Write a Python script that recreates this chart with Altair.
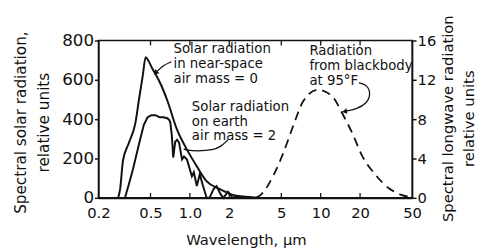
import altair as alt
import pandas as pd

# ---- data ----
# Solar radiation in near-space, air mass = 0 (left axis)
am0_wl = [0.283, 0.293, 0.308, 0.342, 0.383, 0.407, 0.436, 0.459, 0.484, 0.518, 0.546,
          0.606, 0.672, 0.799, 0.950, 1.13, 1.34, 1.68, 2.14, 2.68, 3.36]
am0_val = [0, 45, 190, 280, 380, 495, 620, 715, 695, 655, 630,
           570, 495, 345, 245, 160, 85, 45, 15, 5, 0]

# Solar radiation on earth, air mass = 2 (left axis)
am2_wl = [0.319, 0.342, 0.367, 0.407, 0.444, 0.475, 0.509, 0.546, 0.585, 0.627, 0.672,
          0.696, 0.708, 0.727, 0.746, 0.772, 0.799, 0.827, 0.871, 0.902, 0.950, 1.036,
          1.072, 1.130, 1.190, 1.254, 1.343, 1.414, 1.516, 1.598, 1.712, 1.80, 1.957,
          2.13, 2.30, 2.5, 3.0]
am2_val = [0, 70, 145, 270, 370, 410, 420, 420, 410, 410, 405,
           395, 385, 320, 205, 285, 295, 280, 195, 210, 195, 110,
           130, 60, 120, 65, 0, 0, 45, 60, 20, 0, 30,
           0, 10, 0, 0]

# Radiation from blackbody at 95 F (right axis)
bb_wl = [3.2, 3.48, 4.36, 5.19, 6.16, 7.33, 9.50, 12.3, 14.6, 17.4, 20.7, 26.4, 33.0, 41.4, 46.7]
bb_val = [0.0, 0.3, 2.3, 4.6, 7.3, 9.8, 11.0, 10.3, 8.6, 6.6, 4.3, 2.3, 1.0, 0.3, 0.1]

x_ticks = [0.2, 0.5, 1, 2, 5, 10, 20, 50]
inner_ticks = [0.5, 1, 2, 5, 10, 20]
left_ticks = [0, 200, 400, 600, 800]
right_ticks = [0, 4, 8, 12, 16]

# annotations (in data units of the left axis)
label1 = ["Solar radiation", "in near-space", "air mass = 0"]
label1_wl = 0.75
label1_val = [755, 680, 605]
label2 = ["Solar radiation", "on earth", "air mass = 2"]
label2_wl = 1.035
label2_val = [460, 385, 315]
label3 = ["Radiation", "from blackbody", "at 95°F"]
label3_wl = 8.2
label3_val = [747, 670, 595]

arrow1_wl = [0.720, 0.627, 0.552]
arrow1_val = [691, 675, 638]
leader2_wl = [1.955, 1.741, 1.508, 1.130, 0.950, 0.897]
leader2_val = [295, 262, 242, 237, 242, 249]
arrow3_wl = [19.6, 22.6, 24.2, 22.6, 18.7, 15.4]
arrow3_val = [585, 575, 530, 480, 450, 440]

FONT = "DejaVu Sans"
INK = "#111111"

xscale = alt.Scale(type="log", domain=[0.2, 50], nice=False)
xaxis = alt.Axis(values=x_ticks, labelExpr="datum.value == 1 ? '1.0' : format(datum.value, '~g')",
                 ticks=False, tickSize=0, labelPadding=8, labelFontSize=15, labelFlush=False,
                 labelOverlap=False, domainColor=INK, domainWidth=2, grid=False,
                 title="Wavelength, µm", titleFontSize=15, titleFontWeight="normal",
                 titleX=150, titleY=42, titleAlign="center", titleBaseline="middle")
X = alt.X("w:Q", scale=xscale, axis=xaxis)

lscale = alt.Scale(domain=[0, 800], nice=False)
laxis = alt.Axis(values=left_ticks, tickSize=4, labelPadding=1, labelFontSize=17, grid=False,
                 domainColor=INK, domainWidth=1.5, tickColor=INK, tickWidth=1.5,
                 title=["Spectral solar radiation,", "relative units"], titleFontSize=15.5,
                 titleFontWeight="normal", titleAngle=270, titleX=-79, titleY=83,
                 titleAlign="center", titleBaseline="middle", titleLineHeight=23)
YL = alt.Y("v:Q", scale=lscale, axis=laxis)

rscale = alt.Scale(domain=[0, 16], nice=False)
raxis = alt.Axis(orient="right", values=right_ticks, tickSize=4, labelPadding=1, labelFontSize=15,
                 grid=False, domainColor=INK, domainWidth=1.5, tickColor=INK, tickWidth=1.5,
                 title=["Spectral longwave radiation", "relative units"], titleFontSize=15,
                 titleFontWeight="normal", titleAngle=270, titleX=36, titleY=79,
                 titleAlign="center", titleBaseline="middle", titleLineHeight=21)
YR = alt.Y("v:Q", scale=rscale, axis=raxis)

am0_df = pd.DataFrame({"w": am0_wl, "v": am0_val})
am2_df = pd.DataFrame({"w": am2_wl, "v": am2_val})
bb_df = pd.DataFrame({"w": bb_wl, "v": bb_val})

am0 = alt.Chart(am0_df).mark_line(color=INK, strokeWidth=2, interpolate="monotone").encode(x=X, y=YL)
am2 = alt.Chart(am2_df).mark_line(color=INK, strokeWidth=2, interpolate="linear").encode(x=X, y=YL)

txt_df = pd.DataFrame({
    "w": [label1_wl] * 3 + [label2_wl] * 3 + [label3_wl] * 3,
    "v": label1_val + label2_val + label3_val,
    "t": label1 + label2 + label3,
})
texts = alt.Chart(txt_df).mark_text(align="left", baseline="middle", fontSize=13.5, color=INK,
                                    font=FONT).encode(x=X, y=YL, text="t:N")

a1 = pd.DataFrame({"w": arrow1_wl, "v": arrow1_val, "o": range(len(arrow1_wl))})
l2 = pd.DataFrame({"w": leader2_wl, "v": leader2_val, "o": range(len(leader2_wl))})
a3 = pd.DataFrame({"w": arrow3_wl, "v": arrow3_val, "o": range(len(arrow3_wl))})

arr1 = alt.Chart(a1).mark_line(color=INK, strokeWidth=1.3, interpolate="basis").encode(x=X, y=YL, order="o:Q")
lead2 = alt.Chart(l2).mark_line(color=INK, strokeWidth=1.3, interpolate="basis").encode(x=X, y=YL, order="o:Q")
arr3 = alt.Chart(a3).mark_line(color=INK, strokeWidth=1.3, interpolate="basis").encode(x=X, y=YL, order="o:Q")

head1 = alt.Chart(a1.tail(1)).mark_point(shape="triangle", filled=True, size=35, color=INK,
                                         angle=225, opacity=1).encode(x=X, y=YL)
head3 = alt.Chart(a3.tail(1)).mark_point(shape="triangle", filled=True, size=35, color=INK,
                                         angle=260, opacity=1).encode(x=X, y=YL)

tick_df = pd.DataFrame({"w": inner_ticks})
bticks = alt.Chart(tick_df).mark_rule(color=INK, strokeWidth=1.3).encode(
    x=X, y=alt.value(160), y2=alt.value(155))
tticks = alt.Chart(tick_df).mark_rule(color=INK, strokeWidth=1.3).encode(
    x=X, y=alt.value(0), y2=alt.value(5))

left = alt.layer(am0, am2, texts, arr1, lead2, arr3, head1, head3, bticks, tticks)

bb = alt.Chart(bb_df).mark_line(color=INK, strokeWidth=1.8, strokeDash=[9, 6],
                                interpolate="monotone").encode(x=X, y=YR)

chart = alt.layer(left, bb).resolve_scale(y="independent").properties(
    width=319, height=160,
    autosize=alt.AutoSizeParams(type="none"),
    padding={"left": 92, "top": 31, "right": 67, "bottom": 51},
    background="white",
).configure(font=FONT).configure_view(stroke=INK, strokeWidth=1.5).configure_axis(
    labelColor=INK, titleColor=INK, labelFont=FONT, titleFont=FONT)

chart.save("out.html", embed_options={"renderer": "svg", "actions": False})
